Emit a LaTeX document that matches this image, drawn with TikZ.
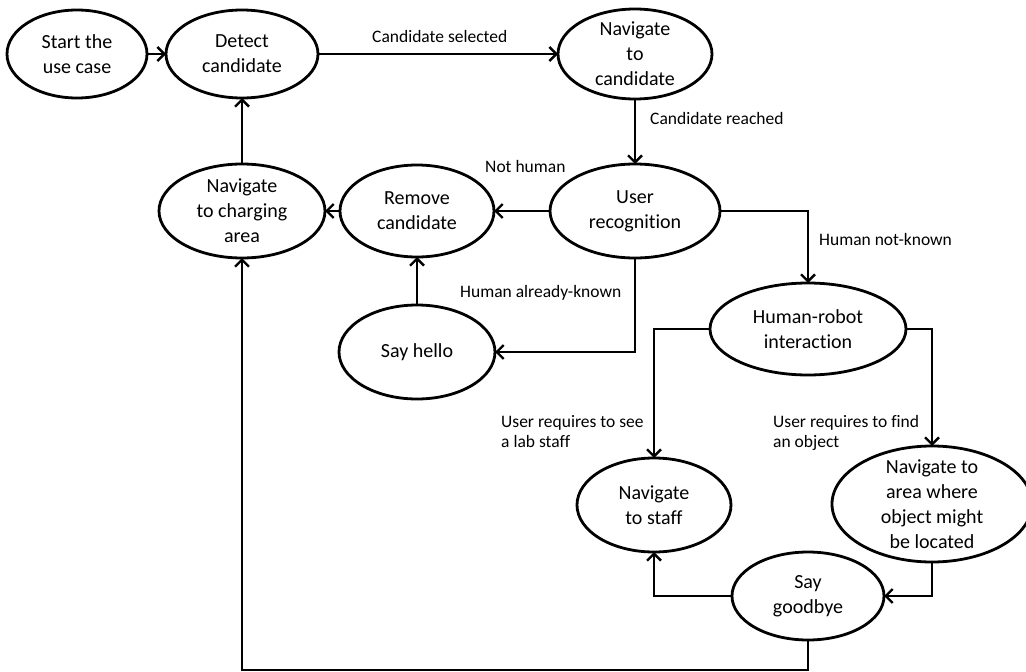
\documentclass[tikz,border=0pt]{standalone}
\usepackage{fontspec}
\setmainfont{Carlito}[Ligatures=NoCommon]
\usetikzlibrary{shapes.geometric,arrows.meta}

\tikzset{
  state/.style={draw, ellipse, line width=2.8pt, inner sep=0pt, outer sep=0pt},
  txt/.style={align=center, font=\fontsize{20}{25}\selectfont, inner sep=0pt},
  lbl/.style={anchor=base west, inner sep=0pt, font=\fontsize{17.5}{20}\selectfont},
  arr/.style={line width=2.8pt, -{Straight Barb[length=7pt,width=14pt,line width=2.4pt]}},
}

\begin{document}
\begin{tikzpicture}[x=1pt, y=-1pt]
\useasboundingbox (0,0) rectangle (1026,672);

% states
\node[state, minimum width=140, minimum height=88, label={[txt]center:Start the\\use case}] (start) at (77,54) {};
\node[state, minimum width=152, minimum height=88, label={[txt]center:Detect\\candidate}] (detect) at (242,54) {};
\node[state, minimum width=154, minimum height=90, label={[txt]center:Navigate\\to\\candidate}] (navc) at (635,54) {};
\node[state, minimum width=170, minimum height=94, label={[txt]center:User\\recognition}] (user) at (635,211) {};
\node[state, minimum width=154, minimum height=92, label={[txt]center:Remove\\candidate}] (remove) at (417,211) {};
\node[state, minimum width=166, minimum height=94, label={[txt]center:Navigate\\to charging\\area}] (charge) at (242,211) {};
\node[state, minimum width=156, minimum height=94, label={[txt]center:Say hello}] (hello) at (417,352) {};
\node[state, minimum width=196, minimum height=92, label={[txt]center:Human-robot\\interaction}] (hri) at (808,329) {};
\node[state, minimum width=154, minimum height=94, label={[txt]center:Navigate\\to staff}] (staff) at (654,505) {};
\node[state, minimum width=200, minimum height=116, label={[txt]center:Navigate to\\area where\\object might\\be located}] (area) at (932,504) {};
\node[state, minimum width=152, minimum height=88, label={[txt]center:Say\\goodbye}] (bye) at (808,596) {};

\coordinate (bottom) at (0,670);

% transitions
\draw[arr] (start.east) -- (detect.west);
\draw[arr] (detect.east) -- (navc.west);
\draw[arr] (navc.south) -- (user.north);
\draw[arr] (user.west) -- (remove.east);
\draw[arr] (remove.west) -- (charge.east);
\draw[arr] (charge.north) -- (detect.south);
\draw[arr] (user.east) -| (hri.north);
\draw[arr] (user.south) |- (hello.east);
\draw[arr] (hello.north) -- (remove.south);
\draw[arr] (hri.west) -| (staff.north);
\draw[arr] (hri.east) -| (area.north);
\draw[arr] (area.south) |- (bye.east);
\draw[arr] (bye.west) -| (staff.south);
\draw[arr] (bye.south) -- (bye.south |- bottom) -- (charge.south |- bottom) -- (charge.south);

% transition labels
\node[lbl] (l1) at (372,42) {Candidate selected};
\node[lbl] (l2) at (650,124) {Candidate reached};
\node[lbl] (l3) at (485,172) {Not human};
\node[lbl] (l4) at (819,245) {Human not-known};
\node[lbl] (l5) at (460,297) {Human already-known};
\node[lbl] (l6a) at (501,427) {User requires to see};
\node[lbl] (l6b) at (501,447) {a lab staff};
\node[lbl] (l7a) at (773,427) {User requires to find};
\node[lbl] (l7b) at (773,447) {an object};
\end{tikzpicture}
\end{document}
